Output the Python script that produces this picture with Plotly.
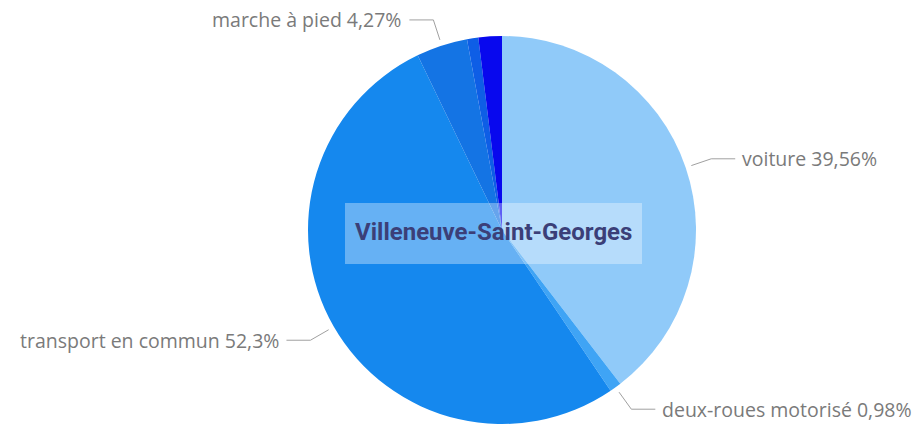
import math
import plotly.graph_objects as go

# ---- data ----
categories = ["voiture", "deux-roues motorisé", "transport en commun",
              "marche à pied", "vélo", "pas de transport"]
values = [39.56, 0.98, 52.3, 4.27, 0.94, 1.95]
labels_shown = ["voiture", "deux-roues motorisé", "transport en commun", "marche à pied"]
colors = ["#90CAF9", "#3FA4F5", "#1588EE", "#1474E4", "#0E5EE6", "#0808EE"]
title_text = "Villeneuve-Saint-Georges"

W, H = 923, 425
cx, cy, r = 502, 230, 194

dom_x = [(cx - r) / W, (cx + r) / W]
dom_y = [1 - (cy + r) / H, 1 - (cy - r) / H]

fig = go.Figure(go.Pie(
    labels=categories, values=values, sort=False, direction="clockwise",
    rotation=0, marker=dict(colors=colors, line=dict(width=0)),
    textinfo="none", hoverinfo="label+percent", showlegend=False,
    domain=dict(x=dom_x, y=dom_y),
))

def px(x):
    return x / W

def py(y):
    return 1 - y / H

def fmt(v):
    s = ("%.2f" % v).rstrip("0").rstrip(".")
    return s.replace(".", ",") + "%"

total = sum(values)
cum = 0.0
shapes = []
annotations = []
for cat, v in zip(categories, values):
    mid = (cum + v / 2) / total * 2 * math.pi
    cum += v
    if cat not in labels_shown:
        continue
    s, c = math.sin(mid), math.cos(mid)
    p0 = (cx + (r + 6) * s, cy - (r + 6) * c)
    p1 = (cx + (r + 27) * s, cy - (r + 27) * c)
    side = 1 if s >= 0 else -1
    p2 = (p1[0] + side * 24, p1[1])
    shapes.append(dict(
        type="path", xref="paper", yref="paper",
        path=f"M {px(p0[0])},{py(p0[1])} L {px(p1[0])},{py(p1[1])} L {px(p2[0])},{py(p2[1])}",
        line=dict(color="#a0a0a0", width=1),
    ))
    annotations.append(dict(
        x=px(p2[0] + side * 5), y=py(p2[1]), xref="paper", yref="paper",
        text=f"{cat} {fmt(v)}", showarrow=False,
        xanchor="left" if side > 0 else "right", yanchor="middle",
        font=dict(family="Open Sans", size=19.5, color="#7a7a7a"),
    ))

# center title box
shapes.append(dict(
    type="rect", xref="paper", yref="paper",
    x0=px(345), x1=px(642), y0=py(264), y1=py(203),
    fillcolor="rgba(255,255,255,0.35)", line=dict(width=0), layer="above",
))
annotations.append(dict(
    x=px(494), y=py(232), xref="paper", yref="paper", text=f"<b>{title_text}</b>",
    showarrow=False, xanchor="center", yanchor="middle",
    font=dict(family="Roboto", size=24, color="#3b3f78"),
))

fig.update_layout(
    width=W, height=H, margin=dict(l=0, r=0, t=0, b=0),
    paper_bgcolor="white", plot_bgcolor="white",
    shapes=shapes, annotations=annotations,
)

fig.write_html("out.html", config={"displayModeBar": False},
               post_script="document.body.style.margin='0px';")
